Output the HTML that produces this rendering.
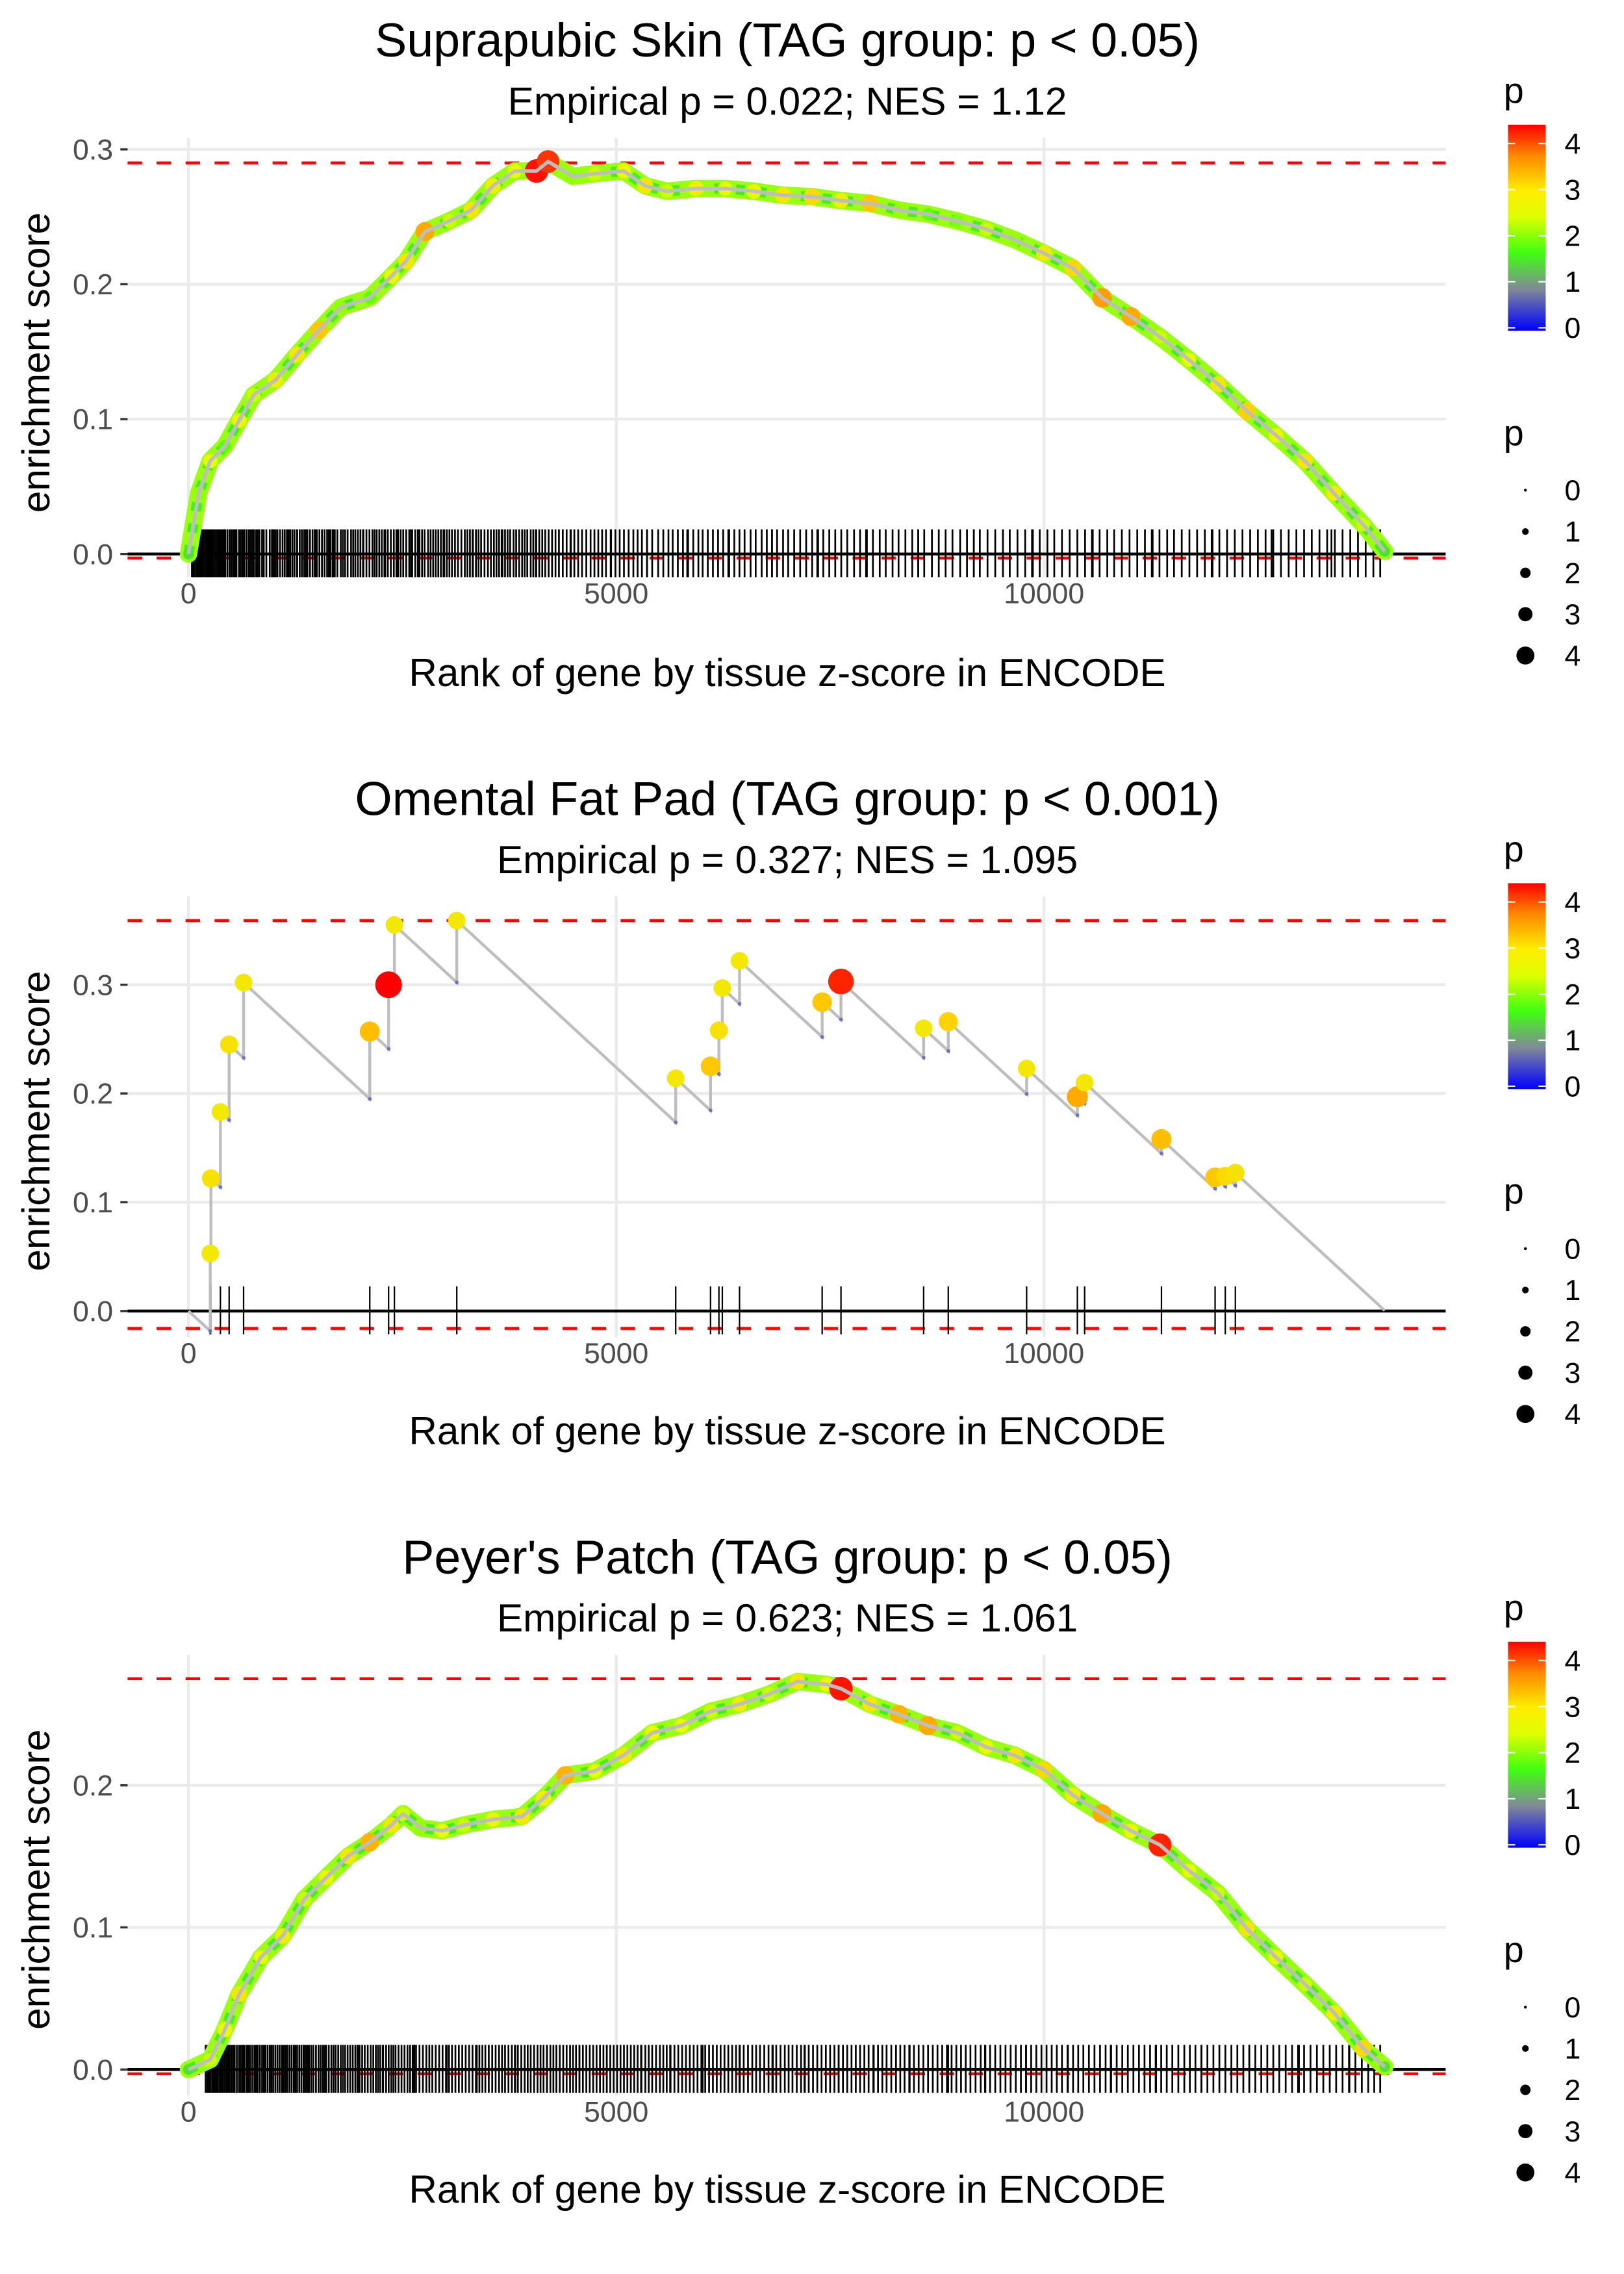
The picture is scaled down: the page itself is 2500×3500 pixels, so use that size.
<!DOCTYPE html>
<html><head><meta charset="utf-8"><style>
html,body{margin:0;padding:0;background:#fff;}
svg{display:block;font-family:"Liberation Sans",Arial,sans-serif;}
</style></head><body>
<svg id="chart" width="2500" height="3500" viewBox="0 0 1120 1568" xmlns="http://www.w3.org/2000/svg">
<defs>
<linearGradient id="pgrad" x1="0" y1="1" x2="0" y2="0">
<stop offset="0" stop-color="#0000ff"/><stop offset="0.2" stop-color="#808898"/><stop offset="0.38" stop-color="#40ff10"/><stop offset="0.55" stop-color="#ddff00"/><stop offset="0.68" stop-color="#ffee00"/><stop offset="0.85" stop-color="#ff8800"/><stop offset="1" stop-color="#ff0000"/>
</linearGradient>
</defs>
</svg>
<script>
// ---------- data ----------
const p1Rank=[0,119,254,424,593,763,1017,1271,1525,1780,2119,2373,2542,2763,3051,3305,3559,3814,4068,4203,4492,4746,5085,5339,5593,5932,6271,6610,6949,7288,7627,7966,8305,8644,8983,9322,9661,10000,10339,10678,11017,11356,11695,12034,12373,12712,13051,13390,13729,13983];
const p1ES=[0,0.045,0.069,0.08,0.099,0.118,0.129,0.148,0.166,0.183,0.19,0.206,0.217,0.239,0.247,0.255,0.273,0.284,0.284,0.291,0.28,0.282,0.284,0.273,0.269,0.271,0.271,0.269,0.266,0.265,0.262,0.26,0.255,0.252,0.247,0.241,0.233,0.223,0.212,0.19,0.176,0.161,0.144,0.126,0.106,0.088,0.069,0.045,0.022,0.002];
const p1P=[1.5,2.0,2.3,1.8,2.4,2.2,2.5,2.6,3.0,2.0,1.8,2.4,2.6,3.3,2.2,2.6,2.5,2.3,4.3,4.1,2.0,2.2,2.4,2.6,2.2,2.5,2.3,2.4,2.6,2.8,2.5,3.0,2.0,1.8,1.9,2.2,2.0,2.6,2.8,3.4,3.3,2.2,2.3,2.6,2.9,2.4,2.6,2.5,2.2,1.5];
const p1Hits=[40,70,90,110,130,160,180,200,230,260,290,310,350,380,400,430,480,520,560,610,650,700,740,790,830,880,950,1000,1040,1100,1150,1190,1240,1300,1350,1390,1450,1500,1560,1620,1660,1710,1780,1830,1900,1950,2010,2080,2150,2200,2260,2330,2400,2450,2510,2580,2650,2700,2760,2830,2890,2950,3020,3080,3150,3230,3290,3360,3420,3500,3570,3630,3700,3760,3830,3900,3960,4030,4100,4170,4250,4330,4420,4510,4600,4700,4790,4880,4990,5090,5200,5300,5420,5550,5660,5780,5900,6010,6130,6250,6380,6500,6630,6760,6880,7010,7150,7290,7420,7560,7700,7850,8000,8150,8300,8460,8600,8770,8930,9100,9250,9430,9600,9780,9950,10120,10300,10480,10650,10820,11000,11180,11350,11520,11700,11880,12050,12230,12410,12590,12770,12950,13130,13310,13490,13670,13850,
 420,560,760,980,1270,1480,1690,2040,2290,2600,2980,3320,3660,4060,4470,4940,5360,5830,6310,6820,7350,7930,8530,9180,9860,10560,11260,11960,12660,13360,
 55,100,145,215,245,275,330,365,415,455,500,540,590,630,675,720,765,810,860,910,975,1020,1070,1125,1170,1215,1270,1325,1370,1420,1475,1530,1590,1640,1685,1740,1805,1860,1925,1980,2045,2115,2175,2230,2300,2365,2430,2480,2545,2615,2680,2730,2800,2860,2920,2990,3050,3115,3190,3260,3325,3390,3460,3535,3600,3670,3730,3800,3865,3930,4000,4065,4135,4210,4290,4375,4465,4555,4650,4745,4835,4935,5040,5145,5250,5360,5490,5610,5720,5840,5960,6070,6190,6320,6440,6570,6700,6820,6950,7080,7220,7360,7490,7630,7780,7920,8080,8230,8380,8530,8690,8850,9020,9180,9340,9520,9690,9870,10040,10210,10390,10570,10740,10910,11090,11270,11440,11610,11790,11970,12140,12320,12500,12680,12860,13040,13220,13400,13580,13760,13930];
const p2HitRank=[254,262,373,475,644,2119,2339,2407,3136,5695,6102,6200,6240,6441,7407,7627,8593,8881,9797,10390,10475,11373,12000,12119,12237];
const p2HitES=[0.053,0.122,0.183,0.245,0.302,0.257,0.30,0.355,0.359,0.214,0.225,0.258,0.297,0.322,0.284,0.303,0.26,0.266,0.223,0.197,0.21,0.158,0.123,0.124,0.127];
const p2HitP=[2.6,2.7,2.6,2.7,2.6,3.1,4.4,2.6,2.6,2.6,3.0,2.7,2.6,2.6,3.0,4.2,2.6,2.9,2.6,3.3,2.6,3.1,3.0,2.8,2.7];
const p2Slope=7.25e-5;
const p2End=13983;
const p3Rank=[0,254,424,593,847,1102,1356,1610,1864,2119,2373,2508,2712,2966,3220,3559,3898,4153,4407,4746,5085,5424,5763,6102,6441,6780,7119,7458,7627,7966,8305,8644,8983,9322,9661,10000,10339,10678,11017,11356,11695,12034,12373,12712,13051,13390,13729,13983];
const p3ES=[0,0.007,0.028,0.053,0.079,0.094,0.12,0.135,0.15,0.16,0.172,0.18,0.17,0.168,0.172,0.176,0.178,0.191,0.207,0.21,0.221,0.237,0.242,0.252,0.257,0.264,0.273,0.271,0.268,0.257,0.25,0.242,0.237,0.227,0.221,0.211,0.193,0.18,0.168,0.158,0.14,0.124,0.099,0.079,0.06,0.04,0.015,0.002];
const p3P=[1.5,2.2,2.4,2.6,2.3,2.5,2.2,2.4,2.6,3.2,2.6,2.2,2.0,2.3,2.2,2.4,2.6,2.5,3.2,2.3,2.6,2.4,2.3,2.2,2.5,2.2,2.6,2.4,4.3,2.6,3.2,3.3,2.2,2.4,2.6,2.8,2.5,3.3,2.4,4.2,2.3,2.2,2.6,2.4,2.2,2.5,2.8,1.5];
const p3Hits=[200,240,280,310,340,380,420,460,500,540,590,630,680,720,770,810,860,900,950,990,1040,1090,1130,1180,1230,1270,1320,1370,1410,1460,1520,1570,1610,1670,1720,1780,1830,1890,1950,2000,2060,2130,2190,2240,2310,2370,2420,2490,2560,2620,2700,2780,2850,2930,3010,3080,3160,3240,3320,3400,3470,3550,3630,3700,3780,3850,3930,4000,4080,4150,4230,4300,4380,4460,4530,4610,4690,4770,4850,4930,5010,5090,5170,5250,5340,5420,5510,5590,5680,5770,5860,5950,6040,6130,6220,6310,6400,6490,6590,6680,6780,6870,6970,7060,7160,7250,7350,7450,7550,7650,7750,7850,7950,8060,8160,8270,8370,8480,8590,8700,8810,8920,9030,9140,9260,9370,9490,9610,9730,9850,9970,10090,10210,10340,10460,10590,10720,10850,10980,11110,11240,11370,11500,11640,11770,11910,12050,12190,12330,12470,12610,12750,12900,13040,13190,13340,13490,13640,13790,13930,
 330,470,640,890,1150,1350,1720,1980,2270,2640,3020,3370,3820,4190,4570,4890,5290,5630,6010,6440,6830,7200,7600,8010,8430,8880,9310,9790,10280,10780,11310,11840,12400,12980,13570,
 220,260,295,325,360,400,440,480,520,565,610,655,700,745,790,835,880,925,970,1015,1065,1110,1155,1205,1250,1295,1345,1390,1435,1490,1545,1590,1640,1695,1750,1805,1860,1920,1975,2030,2095,2160,2215,2275,2340,2395,2455,2525,2590,2660,2740,2815,2890,2970,3045,3120,3200,3280,3360,3435,3510,3590,3665,3740,3815,3890,3965,4040,4115,4190,4265,4340,4420,4495,4570,4650,4730,4810,4890,4970,5050,5130,5210,5295,5380,5465,5550,5635,5725,5815,5905,5995,6085,6175,6265,6355,6445,6540,6635,6730,6825,6920,7015,7110,7205,7300,7400,7500,7600,7700,7800,7900,8005,8110,8215,8320,8425,8535,8645,8755,8865,8975,9085,9200,9315,9430,9550,9670,9790,9910,10030,10150,10275,10400,10525,10655,10785,10915,11045,11175,11305,11435,11570,11705,11840,11980,12120,12260,12400,12540,12680,12825,12970,13115,13265,13415,13565,13715,13860];
const xTicks=[0,5000,10000];
const xTickLabels=["0","5000","10000"];
const legendVals=[0,1,2,3,4];
// ---------- helpers ----------
const svg=document.getElementById('chart');
const NS='http://www.w3.org/2000/svg';
function mk(tag,attrs,parent){const e=document.createElementNS(NS,tag);for(const k in attrs)e.setAttribute(k,attrs[k]);(parent||svg).appendChild(e);return e;}
const cStops=[[0,[0,0,255]],[0.9,[128,136,152]],[1.7,[64,255,16]],[2.3,[230,255,0]],[2.9,[255,210,0]],[3.6,[255,140,0]],[4.4,[255,0,0]]];
function pColor(p){for(let i=1;i<cStops.length;i++){if(p<=cStops[i][0]){const a=cStops[i-1],b=cStops[i];const t=Math.max(0,(p-a[0])/(b[0]-a[0]));const c=a[1].map((v,j)=>Math.round(v+(b[1][j]-v)*t));return 'rgb('+c.join(',')+')';}}return 'rgb(255,0,0)';}
function pR(p){return 1.5+1.75*p;}
const X0=130,XS=0.059;
function xs(r){return X0+r*XS;}
const panels=[
 {off:0,y0:382,ppu:930,yt:[0,0.1,0.2,0.3],top:95,bot:398,redTop:0.29,redBot:-0.003,title:"Suprapubic Skin (TAG group: p < 0.05)",sub:"Empirical p = 0.022; NES = 1.12"},
 {off:523,y0:904,ppu:750,yt:[0,0.1,0.2,0.3],top:618,bot:922,redTop:0.359,redBot:-0.016,title:"Omental Fat Pad (TAG group: p < 0.001)",sub:"Empirical p = 0.327; NES = 1.095"},
 {off:1046,y0:1427,ppu:980,yt:[0,0.1,0.2],top:1141,bot:1445,redTop:0.275,redBot:-0.003,title:"Peyer's Patch (TAG group: p < 0.05)",sub:"Empirical p = 0.623; NES = 1.061"}
];
panels.forEach((P,pi)=>{
 const g=mk('g',{});
 
 
 const ys=v=>P.y0-v*P.ppu;
 xTicks.forEach(t=>{const l=mk('line',{x1:xs(t),x2:xs(t),y1:P.top,y2:P.bot,stroke:'#ebebeb','stroke-width':2},g);});
 P.yt.forEach(t=>{const l=mk('line',{x1:88,x2:997,y1:ys(t),y2:ys(t),stroke:'#ebebeb','stroke-width':2},g);
  const tk=mk('line',{x1:83,x2:88,y1:ys(t),y2:ys(t),stroke:'#333','stroke-width':1.5},g);
  const tl=mk('text',{x:78,y:ys(t)+7,'text-anchor':'end','font-size':20,fill:'#4d4d4d'},g);tl.textContent=t.toFixed(1);});
 xTicks.forEach((t,i)=>{const tl=mk('text',{x:xs(t),y:P.bot+18,'text-anchor':'middle','font-size':20,fill:'#4d4d4d'},g);tl.textContent=xTickLabels[i];});
 [P.redTop,P.redBot].forEach(v=>{const l=mk('line',{x1:88,x2:997,y1:ys(v),y2:ys(v),stroke:'#ff0000','stroke-width':2,'stroke-dasharray':'10,10'},g);});
 const hits=pi===0?p1Hits:(pi===1?p2HitRank:p3Hits);
 const rg=mk('g',{},g);
 hits.forEach(h=>{const l=mk('line',{x1:xs(h),x2:xs(h),y1:P.y0-17,y2:P.y0+16,stroke:'#000','stroke-width':pi===1?1:1.2},rg);});
 const z=mk('line',{x1:88,x2:997,y1:P.y0,y2:P.y0,stroke:'#000','stroke-width':2},g);
 if(pi===1){
  let pts=[[xs(0),ys(0)]];let prevR=0,prevE=0;const lows=[];
  p2HitRank.forEach((r,i)=>{const low=prevE-p2Slope*(r-prevR);pts.push([xs(r),ys(low)]);pts.push([xs(r),ys(p2HitES[i])]);lows.push([r,low]);prevR=r;prevE=p2HitES[i];});
  pts.push([xs(p2End),ys(prevE-p2Slope*(p2End-prevR))]);
  const pl=mk('polyline',{points:pts.map(p=>p.join(',')).join(' '),fill:'none',stroke:'#bebebe','stroke-width':2},g);
  lows.forEach(l=>{const c=mk('circle',{cx:xs(l[0]),cy:ys(l[1]),r:1.3,fill:'#7070d0'},g);});
  p2HitRank.forEach((r,i)=>{const c=mk('circle',{cx:xs(r),cy:ys(p2HitES[i]),r:pR(p2HitP[i]),fill:pColor(p2HitP[i])},g);});
 } else {
  const R=pi===0?p1Rank:p3Rank,E=pi===0?p1ES:p3ES,PP=pi===0?p1P:p3P;
  const pts=R.map((r,i)=>xs(r)+','+ys(E[i])).join(' ');
  const band=mk('polyline',{points:pts,fill:'none',stroke:'#9aff10','stroke-width':12,'stroke-linejoin':'round','stroke-linecap':'round'},g);
  const band2=mk('polyline',{points:pts,fill:'none',stroke:'#44ee22','stroke-width':7,'stroke-linejoin':'round','stroke-dasharray':'6,9'},g);
  R.forEach((r,i)=>{const c=mk('circle',{cx:xs(r),cy:ys(E[i]),r:pR(PP[i])*0.9,fill:pColor(PP[i])},g);});
  const pl=mk('polyline',{points:pts,fill:'none',stroke:'#bebebe','stroke-width':2.5,'stroke-linejoin':'round'},g);
 }
 const t=mk('text',{x:543,y:39+P.off,'text-anchor':'middle','font-size':33,fill:'#000'},g);t.textContent=P.title;
 const s=mk('text',{x:543,y:79+P.off,'text-anchor':'middle','font-size':27,fill:'#000'},g);s.textContent=P.sub;
 const xl=mk('text',{x:543,y:473+P.off,'text-anchor':'middle','font-size':27,fill:'#000'},g);xl.textContent='Rank of gene by tissue z-score in ENCODE';
 const yc=250+P.off;
 const yl=mk('text',{x:34,y:yc,'text-anchor':'middle','font-size':27,fill:'#000',transform:'rotate(-90 34 '+yc+')'},g);yl.textContent='enrichment score';
 const lg=mk('g',{},g);
 const lt=mk('text',{x:1037,y:71+P.off,'font-size':25,fill:'#000'},lg);lt.textContent='p';
 const cbTop=86+P.off,cb0=226+P.off,cbU=31.75;
 const rb=mk('rect',{x:1040,y:cbTop,width:26,height:cb0-cbTop+2,fill:'url(#pgrad)'},lg);
 legendVals.forEach(v=>{const y=cb0-v*cbU;
  mk('line',{x1:1040,x2:1045,y1:y,y2:y,stroke:'#fff','stroke-width':1},lg);mk('line',{x1:1061,x2:1066,y1:y,y2:y,stroke:'#fff','stroke-width':1},lg);
  const tx=mk('text',{x:1079,y:y+7,'font-size':20,fill:'#000'},lg);tx.textContent=String(v);});
 const sg=mk('g',{},g);
 const st=mk('text',{x:1037,y:307+P.off,'font-size':25,fill:'#000'},sg);st.textContent='p';
 legendVals.forEach((v,i)=>{const y=338+i*28.5+P.off;
  const c=mk('circle',{cx:1052,cy:y,r:1+v*1.3,fill:'#000'},sg);
  const tx=mk('text',{x:1079,y:y+7,'font-size':20,fill:'#000'},sg);tx.textContent=String(v);});
});
</script>
</body></html>
